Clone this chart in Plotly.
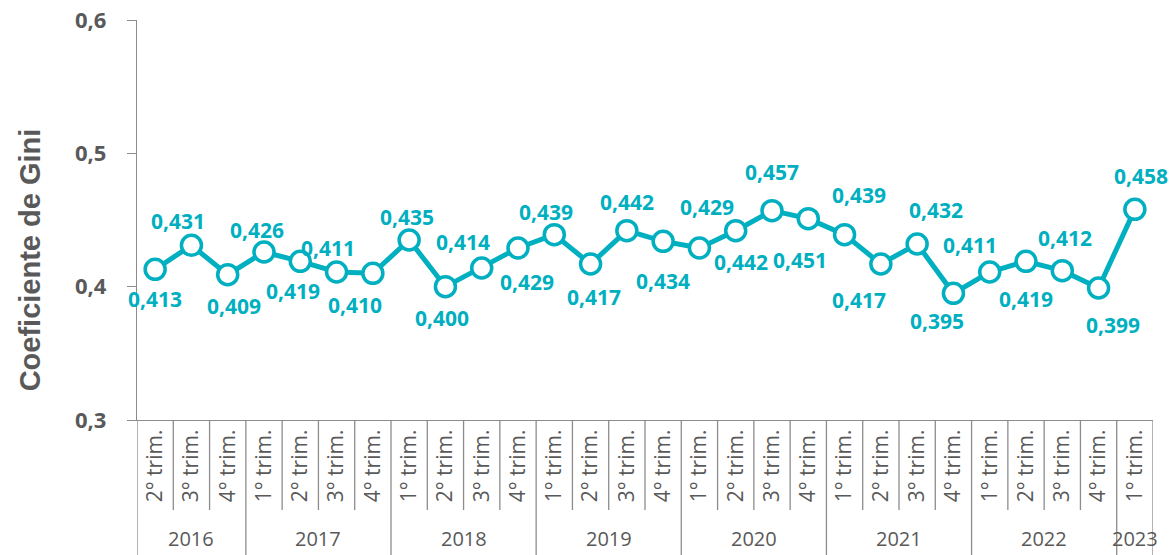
import plotly.graph_objects as go

YEARS = ["2016", "2017", "2018", "2019", "2020", "2021", "2022", "2023"]
QUARTERS = [
    ["2° trim.", "3° trim.", "4° trim."],
    ["1° trim.", "2° trim.", "3° trim.", "4° trim."],
    ["1° trim.", "2° trim.", "3° trim.", "4° trim."],
    ["1° trim.", "2° trim.", "3° trim.", "4° trim."],
    ["1° trim.", "2° trim.", "3° trim.", "4° trim."],
    ["1° trim.", "2° trim.", "3° trim.", "4° trim."],
    ["1° trim.", "2° trim.", "3° trim.", "4° trim."],
    ["1° trim."],
]
GINI = [
    0.413, 0.431, 0.409,
    0.426, 0.419, 0.411, 0.410,
    0.435, 0.400, 0.414, 0.429,
    0.439, 0.417, 0.442, 0.434,
    0.429, 0.442, 0.457, 0.451,
    0.439, 0.417, 0.432, 0.395,
    0.411, 0.419, 0.412, 0.399,
    0.458,
]

# manual label placement (pixel offsets from each point), like the Excel original
LABEL_DX = [0, -13, 6, -7, -7, -9, -18, -2, -3, -19, 9, -8, 3, 0,
            0, 8, 5, 0, -8, 14, -22, 19, -16, -20, 0, 3, 14, 6]
LABEL_DY = [-30, 24, -31, 22, -30, 24, -32, 23, -31, 26, -34, 23, -33, 29,
            -40, 41, -31, 39, -41, 40, -36, 34, -28, 27, -38, 33, -37, 33]

TEAL = "#00AFC0"
GREY = "#595959"
LINE_GREY = "#8C8C8C"

FIG_W, FIG_H = 1174, 555
PLOT_H = 400

quarter_labels = [q for group in QUARTERS for q in group]
x_idx = list(range(len(GINI)))

fig = go.Figure()
fig.add_trace(
    go.Scatter(
        x=x_idx,
        y=GINI,
        mode="lines+markers",
        line=dict(color=TEAL, width=5),
        marker=dict(size=20, color="white", line=dict(color=TEAL, width=3.5)),
        showlegend=False,
        hoverinfo="skip",
        cliponaxis=False,
    )
)

annotations = []
for i, v in enumerate(GINI):
    annotations.append(
        dict(
            x=i, y=v, xref="x", yref="y",
            text=f"{v:.3f}".replace(".", ","),
            showarrow=False,
            xshift=LABEL_DX[i], yshift=LABEL_DY[i],
            font=dict(family="Open Sans", size=21, color=TEAL, weight="bold"),
        )
    )

# y axis title sits a bit low in the original, so place it by hand
annotations.append(
    dict(
        x=-0.105, y=0.4, xref="paper", yref="paper",
        xanchor="center", yanchor="middle",
        text="Coeficiente de Gini", textangle=-90, showarrow=False,
        font=dict(family="Liberation Sans", size=29, color=GREY, weight="bold"),
    )
)

# year group labels and divider lines under the axis
shapes = []
start = 0
boundaries = {-0.5}
for year, group in zip(YEARS, QUARTERS):
    end = start + len(group)
    annotations.append(
        dict(
            x=(start + end - 1) / 2, y=-118 / PLOT_H, xref="x", yref="paper",
            text=year, showarrow=False, yanchor="middle",
            font=dict(family="Open Sans", size=20, color=GREY),
        )
    )
    boundaries.add(end - 0.5)
    start = end

for k in range(len(GINI) + 1):
    xb = k - 0.5
    depth = 135 if xb in boundaries else 90
    shapes.append(
        dict(
            type="line", xref="x", yref="paper",
            x0=xb, x1=xb, y0=0, y1=-depth / PLOT_H,
            line=dict(color=LINE_GREY, width=1.3),
        )
    )

fig.update_layout(
    width=FIG_W,
    height=FIG_H,
    margin=dict(l=137, r=21, t=20, b=135),
    plot_bgcolor="white",
    paper_bgcolor="white",
    separators=",.",
    showlegend=False,
    annotations=annotations,
    shapes=shapes,
    xaxis=dict(
        range=[-0.5, len(GINI) - 0.5],
        tickvals=x_idx,
        ticktext=quarter_labels,
        tickangle=-90,
        ticks="",
        showline=True,
        linecolor=LINE_GREY,
        linewidth=1.3,
        showgrid=False,
        zeroline=False,
        automargin=False,
        tickfont=dict(family="Open Sans", size=21, color=GREY),
    ),
    yaxis=dict(
        range=[0.3, 0.6],
        tickvals=[0.3, 0.4, 0.5, 0.6],
        tickformat=".1f",
        ticks="outside",
        ticklen=9,
        tickcolor=LINE_GREY,
        ticklabelstandoff=16,
        ticklabeloverflow="allow",
        showline=True,
        linecolor=LINE_GREY,
        linewidth=1.3,
        showgrid=False,
        zeroline=False,
        automargin=False,
        tickfont=dict(family="Open Sans", size=22, color=GREY, weight="bold"),
    ),
)

# drop the default page margin so the figure fills the window exactly
fig.write_html(
    "out.html",
    config={"displayModeBar": False},
    post_script="document.body.style.margin='0'; document.body.style.overflow='hidden';",
)
